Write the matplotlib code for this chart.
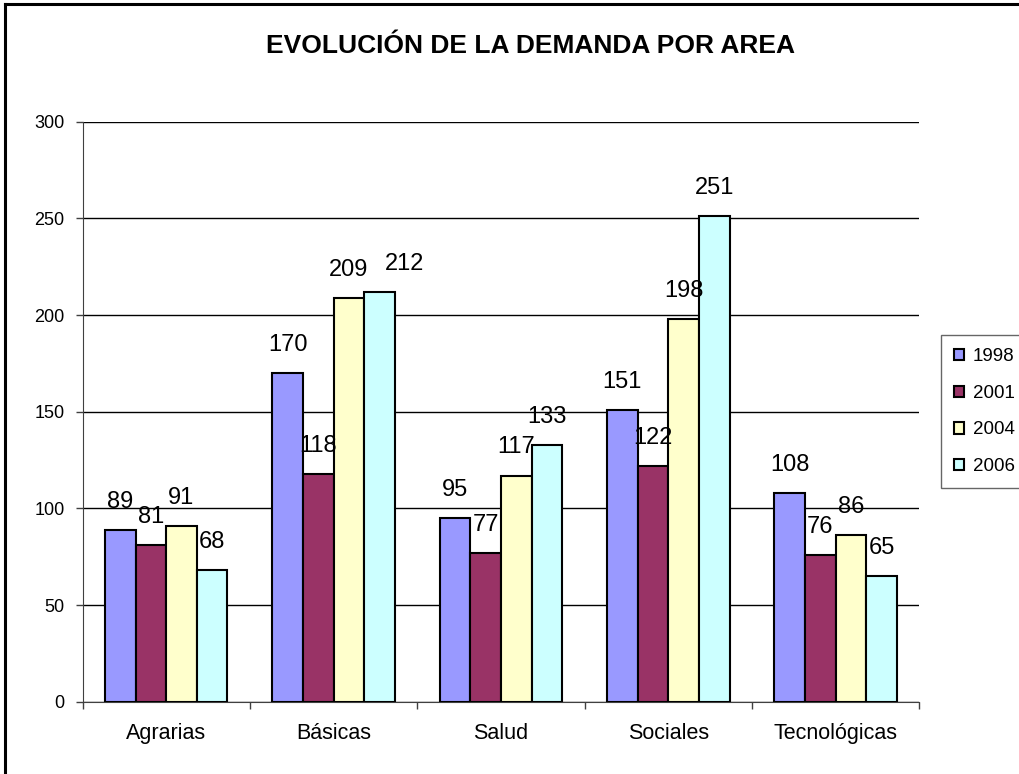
import matplotlib.pyplot as plt
import numpy as np
from matplotlib.patches import Patch
from matplotlib.lines import Line2D

plt.rcParams['font.family'] = ['Liberation Sans', 'DejaVu Sans']

categorias = ["Agrarias", "Básicas", "Salud", "Sociales", "Tecnológicas"]
anios = ["1998", "2001", "2004", "2006"]
v1998 = [89, 170, 95, 151, 108]
v2001 = [81, 118, 77, 122, 76]
v2004 = [91, 209, 117, 198, 86]
v2006 = [68, 212, 133, 251, 65]
colores = ["#9999FF", "#993366", "#FFFFCC", "#CCFFFF"]

series = [v1998, v2001, v2004, v2006]
# desplazamiento horizontal de etiquetas (px) para evitar solapes, como en el original
desplaz = {(3, 1): 25}

fig = plt.figure(figsize=(10.2, 7.74), dpi=100)
ax = fig.add_axes([82.5 / 1020, 1 - 701.7 / 774, (919.3 - 82.5) / 1020, (701.7 - 121.7) / 774])

x = np.arange(len(categorias))
w = 0.183
for i, (vals, col) in enumerate(zip(series, colores)):
    pos = x + (i - 1.5) * w
    ax.bar(pos, vals, width=w, color=col, edgecolor="black", linewidth=1.5, zorder=3)
    for j, (px, v) in enumerate(zip(pos, vals)):
        dx = desplaz.get((i, j), 0)
        ax.annotate(str(v), (px, v), xytext=(dx, 17), textcoords="offset pixels",
                    ha="center", va="bottom", fontsize=17, zorder=4)

ax.set_ylim(0, 300)
ax.set_xlim(-0.5, len(categorias) - 0.5)
ax.set_yticks(np.arange(0, 301, 50))
ax.yaxis.grid(True, color="black", linewidth=1.0, zorder=0)
ax.set_xticks(x)
ax.set_xticklabels(categorias)
ax.set_xticks(np.arange(-0.5, len(categorias), 1), minor=True)
ax.tick_params(axis="x", which="major", length=0, pad=15, labelsize=15.5)
ax.tick_params(axis="x", which="minor", length=5, width=1, color="#404040")
ax.tick_params(axis="y", length=5, width=1, color="#404040", pad=8, labelsize=13)
for s in ["top", "right"]:
    ax.spines[s].set_visible(False)
ax.spines["left"].set_color("#404040")
ax.spines["bottom"].set_color("#404040")

fig.text(530 / 1020, 1 - 46 / 774, "EVOLUCIÓN DE LA DEMANDA POR AREA", ha="center", va="center",
         fontsize=19, fontweight="bold")

handles = [Patch(facecolor=c, edgecolor="black", linewidth=1.5) for c in colores]
leg = fig.legend(handles, anios, loc="upper left", bbox_to_anchor=(941 / 1020, 1 - 335 / 774),
                 fontsize=13.5, frameon=True, fancybox=False, edgecolor="#404040",
                 handlelength=0.55, handleheight=0.55, handletextpad=0.45, labelspacing=1.05,
                 borderpad=0.7, borderaxespad=0)
leg.get_frame().set_linewidth(1.0)

# marco exterior
fig.add_artist(Line2D([5.5 / 1020, 5.5 / 1020], [0, 1 - 4 / 774], color="black", linewidth=2.2))
fig.add_artist(Line2D([5.5 / 1020, 1], [1 - 4 / 774, 1 - 4 / 774], color="black", linewidth=2.2))

fig.savefig("out.png", dpi=100)
